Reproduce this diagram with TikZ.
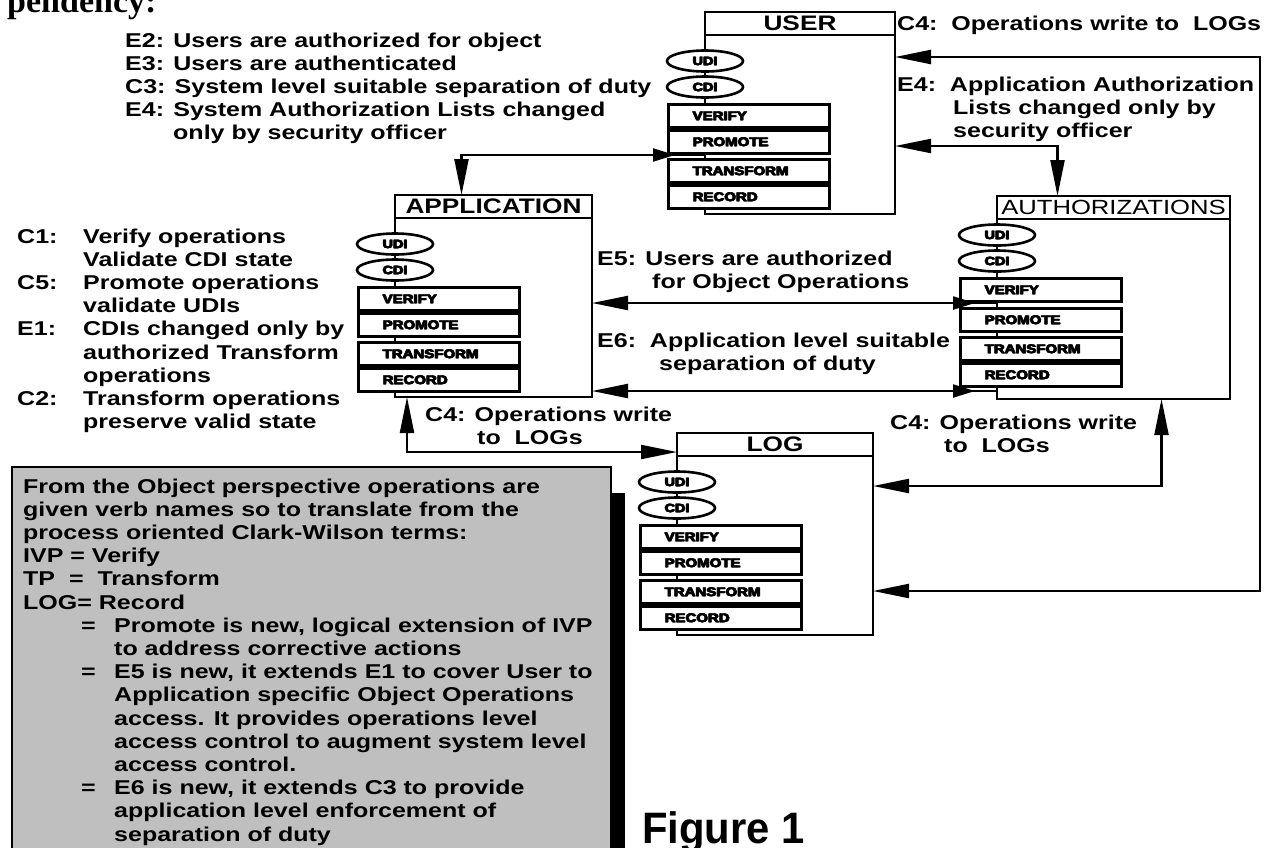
\documentclass[tikz,border=0pt]{standalone}
\usepackage{fontspec}
\usetikzlibrary{arrows.meta,shapes.geometric,decorations.markings}

% fonts: a wide Helvetica-like bold sans for the labels
\newfontfamily\sansf{Liberation Sans}[FakeStretch=1.25]
\newfontfamily\heavyf{Liberation Sans}[FakeStretch=1.2, FakeBold=3]
\newfontfamily\serf{Liberation Serif}
\newfontfamily\figf{Liberation Sans}[FakeStretch=0.95]
\newcommand\bodyfont{\sansf\bfseries\fontsize{20}{23.2}\selectfont}
\newcommand\headfont{\sansf\bfseries\fontsize{21}{24}\selectfont}
\newcommand\headlight{\sansf\fontsize{20.5}{24}\selectfont}
\newcommand\opfont{\heavyf\bfseries\fontsize{12.5}{14}\selectfont}
\newcommand\ellfont{\heavyf\bfseries\fontsize{12}{14}\selectfont}
% black-letter look of the small labels: the word set twice, a hair apart
\newcommand\heavytext[1]{\makebox[0pt][l]{#1}\hspace{0.7pt}#1}

\tikzset{
  obox/.style={rectangle, draw, line width=2pt, fill=white, inner sep=0pt, outer sep=0pt},
  hdbox/.style={rectangle, draw, line width=2pt, fill=white, inner sep=0pt, outer sep=0pt,
                minimum height=23pt, anchor=north west},
  ell/.style={ellipse, draw, line width=2.6pt, fill=white, minimum width=76pt,
              minimum height=21pt, inner sep=0pt, font=\ellfont},
  opbox/.style={rectangle, draw, line width=2.6pt, fill=white, minimum height=23pt,
                text width=113pt, inner xsep=24pt, inner ysep=0pt, align=left,
                anchor=north west, font=\opfont},
  txt/.style={anchor=base west, inner sep=0pt, font=\bodyfont},
  conn/.style={line width=2.2pt},
  midtip/.style={postaction={decorate, decoration={markings,
      mark=at position #1 with {\arrow{Triangle[length=22pt,width=13pt]}}}}},
}

% one object: outer frame, title bar, UDI/CDI ellipses and the four operations
% #1 name, #2 left, #3 top, #4 right, #5 height, #6 shift of the column,
% #7 title font, #8 title, #9 extra shift of the lower operations
\newcommand\drawobject[9]{%
  \node[obox, minimum width={(#4-#2)*1pt}, minimum height={#5*1pt}, anchor=north west] (#1) at (#2,#3) {};
  \node[hdbox, minimum width={(#4-#2)*1pt}, font=#7] (#1-hd) at (#2,#3) {#8};
  \node[ell] (#1-udi) at ({#2},{#3+49+#6}) {\heavytext{UDI}};
  \node[ell] (#1-cdi) at ({#2},{#3+75+#6}) {\heavytext{CDI}};
  \node[opbox] (#1-ve) at ({#2-38},{#3+91+#6}) {\heavytext{VERIFY}};
  \node[opbox] (#1-pr) at ({#2-38},{#3+117+#6+#9}) {\heavytext{PROMOTE}};
  \node[opbox] (#1-tr) at ({#2-38},{#3+146+#6+#9}) {\heavytext{TRANSFORM}};
  \node[opbox] (#1-re) at ({#2-38},{#3+172+#6+#9}) {\heavytext{RECORD}};
}

\begin{document}
\begin{tikzpicture}[x=1pt, y=-1pt, >={Triangle[length=36pt,width=14pt]}]
\useasboundingbox (0,0) rectangle (1285,847);
\fill[white] (0,0) rectangle (1285,847);
\clip (0,0) rectangle (1285,847);

% running text above the figure
\node[anchor=base west, inner sep=0pt, font=\serf\bfseries\fontsize{34}{38}\selectfont] (pend) at (7,12) {pendency:};

% objects
\drawobject{user}{705}{12}{895}{202}{0}{\headfont}{USER}{0}
\drawobject{app}{395}{195}{592}{202}{0}{\headfont}{APPLICATION}{0}
\drawobject{auth}{997}{196}{1230}{203}{-10}{\headlight}{AUTHORIZATIONS}{4}
\drawobject{log}{677}{433}{873}{202}{0}{\headfont}{LOG}{0}

% constraint texts
\node[txt] (etop) at (125,47) {\begin{tabular}[t]{@{}l@{}}
E2: Users are authorized for object\\
E3: Users are authenticated\\
C3: System level suitable separation of duty\\
E4: System Authorization Lists changed\\
\hspace*{48pt}only by security officer
\end{tabular}};

\node[txt] (cleft) at (17,243) {\begin{tabular}[t]{@{}l@{}}
\makebox[66pt][l]{C1:}Verify operations\\
\hspace*{66pt}Validate CDI state\\
\makebox[66pt][l]{C5:}Promote operations\\
\hspace*{66pt}validate UDIs\\
\makebox[66pt][l]{E1:}CDIs changed only by\\
\hspace*{66pt}authorized Transform\\
\hspace*{66pt}operations\\
\makebox[66pt][l]{C2:}Transform operations\\
\hspace*{66pt}preserve valid state
\end{tabular}};

\node[txt] (c4top) at (897,30) {C4:\ \ Operations write to\ \ LOGs};
\node[txt] (e4) at (897,91) {\begin{tabular}[t]{@{}l@{}}
E4:\ \ Application Authorization\\
\hspace*{56pt}Lists changed only by\\
\hspace*{56pt}security officer
\end{tabular}};

\node[txt] (e5) at (597,265) {\begin{tabular}[t]{@{}l@{}}
E5: Users are authorized\\
\hspace*{55pt}for Object Operations
\end{tabular}};
\node[txt] (e6) at (597,347) {\begin{tabular}[t]{@{}l@{}}
E6:\ \ Application level suitable\\
\hspace*{62pt}separation of duty
\end{tabular}};

\node[txt] (c4app) at (425,421) {\begin{tabular}[t]{@{}l@{}}
C4: Operations write\\
\hspace*{52pt}to\ \ LOGs
\end{tabular}};
\node[txt] (c4auth) at (890,429) {\begin{tabular}[t]{@{}l@{}}
C4: Operations write\\
\hspace*{54pt}to\ \ LOGs
\end{tabular}};

% shaded note with its shadow
\fill[black] (611,493) rectangle (625,850);
\node[rectangle, draw, line width=2pt, fill=black!25, inner sep=0pt, outer sep=0pt,
      minimum width=599pt, minimum height=390pt, anchor=north west] (note) at (12,467) {};
\node[txt] (notetext) at (23,493) {\begin{tabular}[t]{@{}l@{}}
From the Object perspective operations are\\
given verb names so to translate from the\\
process oriented Clark-Wilson terms:\\
IVP = Verify\\
TP\ \ =\ \ Transform\\
LOG= Record\\
\hspace*{58pt}\makebox[33pt][l]{=}Promote is new, logical extension of IVP\\
\hspace*{91pt}to address corrective actions\\
\hspace*{58pt}\makebox[33pt][l]{=}E5 is new, it extends E1 to cover User to\\
\hspace*{91pt}Application specific Object Operations\\
\hspace*{91pt}access. It provides operations level\\
\hspace*{91pt}access control to augment system level\\
\hspace*{91pt}access control.\\
\hspace*{58pt}\makebox[33pt][l]{=}E6 is new, it extends C3 to provide\\
\hspace*{91pt}application level enforcement of\\
\hspace*{91pt}separation of duty
\end{tabular}};

\node[anchor=base west, inner sep=0pt, font=\figf\bfseries\fontsize{44}{48}\selectfont] (fig) at (642,843) {Figure 1};

% connectors
\coordinate (rail) at (1260,300);
\draw[conn, <-, midtip=-30pt] ([xshift=-32pt]app-hd.north) |- (user.west |- 0,155);
\draw[conn, <->] (user.east |- 0,146) -| ([xshift=-56pt]auth-hd.north);
\draw[conn, <->] (user.east |- 0,57) -| (rail) |- (log.east |- 0,591);
\draw[conn, <-, midtip=-22pt] (app.east |- 0,303) -- (auth.west |- 0,303);
\draw[conn, <-, midtip=-22pt] (app.east |- 0,391) -- (auth.west |- 0,391);
\draw[conn, <->] ([xshift=12pt]app.south west) |- (log.west |- 0,452);
\draw[conn, <->] ([xshift=48pt]auth.south) |- (log.east |- 0,486);
\end{tikzpicture}
\end{document}
